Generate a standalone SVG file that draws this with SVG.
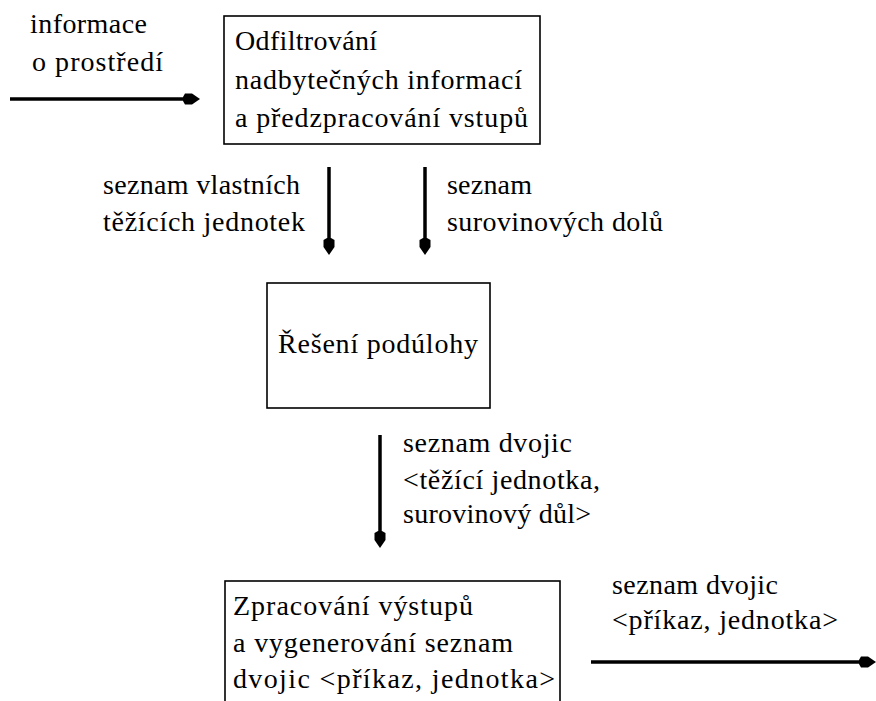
<svg xmlns="http://www.w3.org/2000/svg" width="876" height="701" viewBox="0 0 876 701">
<style>
text{font-family:'Liberation Serif','Times New Roman',serif;font-size:28px;fill:#000}
.box{fill:#fff;stroke:#000;stroke-width:1.6}
.conn{stroke:#000;stroke-width:3.5;fill:none}
</style>
<defs>
<marker id="ah" markerUnits="userSpaceOnUse" markerWidth="20" markerHeight="14" viewBox="-10 -7 20 14" refX="0" refY="0" orient="auto">
<path d="M-9,-2 L-7,-5.5 L0,-5.5 L8,0 L0,5.5 L-7,5.5 L-9,2 Z" fill="#000"/>
</marker>
</defs>
<rect width="876" height="701" fill="#fff"/>
<g id="connectors">
<line class="conn" x1="10" y1="99" x2="192" y2="99" marker-end="url(#ah)"/>
<line class="conn" x1="329" y1="167" x2="329" y2="247" marker-end="url(#ah)"/>
<line class="conn" x1="425" y1="167" x2="425" y2="247" marker-end="url(#ah)"/>
<line class="conn" x1="380" y1="435" x2="380" y2="540" marker-end="url(#ah)"/>
<line class="conn" x1="591" y1="662" x2="868" y2="662" marker-end="url(#ah)"/>
</g>
<g id="labels">
<text x="30" y="33" textLength="117" lengthAdjust="spacing">informace</text>
<text x="32" y="71" textLength="131" lengthAdjust="spacing">o prostředí</text>
<text x="103" y="194" textLength="197" lengthAdjust="spacing">seznam vlastních</text>
<text x="103" y="231" textLength="202" lengthAdjust="spacing">těžících jednotek</text>
<text x="447" y="194" textLength="85" lengthAdjust="spacing">seznam</text>
<text x="447" y="231" textLength="216" lengthAdjust="spacing">surovinových dolů</text>
<text x="403" y="452" textLength="169" lengthAdjust="spacing">seznam dvojic</text>
<text x="403" y="489" textLength="197" lengthAdjust="spacing">&lt;těžící jednotka,</text>
<text x="403" y="523" textLength="188" lengthAdjust="spacing">surovinový důl&gt;</text>
<text x="612" y="594" textLength="166" lengthAdjust="spacing">seznam dvojic</text>
<text x="612" y="629" textLength="226" lengthAdjust="spacing">&lt;příkaz, jednotka&gt;</text>
</g>
<g id="node-filter">
<rect class="box" x="224" y="16" width="316" height="128"/>
<text x="235" y="50" textLength="142" lengthAdjust="spacing">Odfiltrování</text>
<text x="235" y="89" textLength="287" lengthAdjust="spacing">nadbytečných informací</text>
<text x="235" y="127" textLength="293" lengthAdjust="spacing">a předzpracování vstupů</text>
</g>
<g id="node-solve">
<rect class="box" x="267" y="283" width="223" height="125"/>
<text x="278" y="353" textLength="200" lengthAdjust="spacing">Řešení podúlohy</text>
</g>
<g id="node-output">
<rect class="box" x="225" y="581" width="335" height="130"/>
<text x="233" y="615" textLength="240" lengthAdjust="spacing">Zpracování výstupů</text>
<text x="233" y="652" textLength="280" lengthAdjust="spacing">a vygenerování seznam</text>
<text x="233" y="688" textLength="322" lengthAdjust="spacing">dvojic &lt;příkaz, jednotka&gt;</text>
</g>
</svg>
